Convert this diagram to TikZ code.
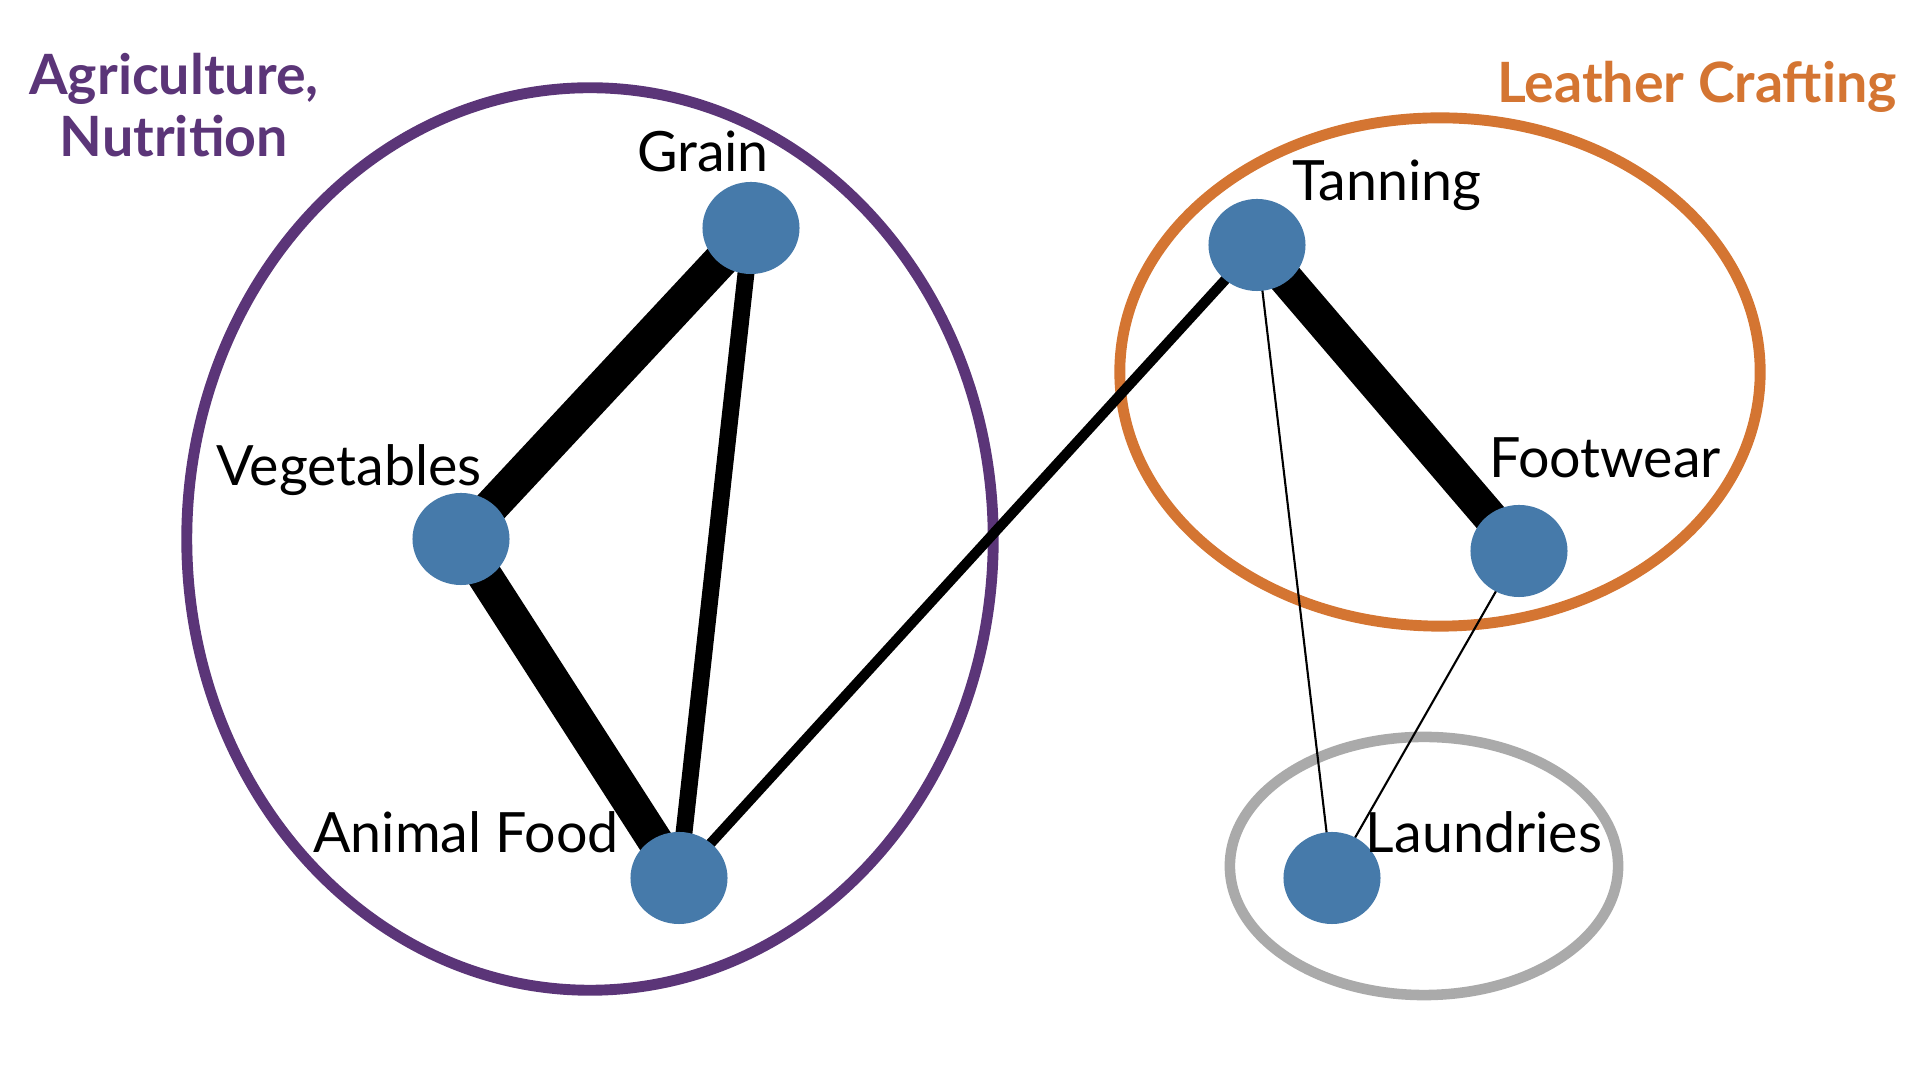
\documentclass[tikz,border=0pt]{standalone}
\usepackage{fontspec}
\setmainfont{Lato}
\usetikzlibrary{shapes.geometric,backgrounds}
\definecolor{nodeblue}{RGB}{70,122,170}
\definecolor{agripurple}{RGB}{91,53,120}
\definecolor{leatherorange}{RGB}{212,117,50}
\definecolor{groupgray}{RGB}{170,170,170}
\begin{document}
\begin{tikzpicture}[x=0.01cm,y=-0.01cm, every node/.style={font=\fontsize{15.8}{17.9}\selectfont},ind/.style={ellipse,fill=nodeblue,inner sep=0pt,minimum width=0.97cm,minimum height=0.92cm},indlab/.style={anchor=base,inner sep=0pt},grouplab/.style={anchor=base,inner sep=0pt,align=center,font=\fontsize{15.8}{17.9}\selectfont\bfseries},]
\useasboundingbox (0,0) rectangle (1920,1080);
\node[ind] (grain) at (751,228) {};
\node[ind] (veg) at (461,539) {};
\node[ind] (food) at (679,878) {};
\node[ind] (tan) at (1257,245) {};
\node[ind] (foot) at (1519,551) {};
\node[ind] (laun) at (1332,878) {};
\node[indlab] (grainlab) at (703,172) {Grain};
\node[indlab] (veglab) at (349,486) {Vegetables};
\node[indlab] (foodlab) at (466,853) {Animal Food};
\node[indlab] (tanlab) at (1387,201) {Tanning};
\node[indlab] (footlab) at (1605,478) {Footwear};
\node[indlab] (launlab) at (1484,853) {Laundries};
\node[grouplab,text=agripurple] (agri) at (174,157) {Agriculture,\\Nutrition};
\node[grouplab,text=leatherorange] (leather) at (1697,103) {Leather Crafting};
\begin{scope}[on background layer]
\draw[agripurple,line width=3.1pt] (590,539) ellipse [x radius=4.03cm,y radius=4.51cm];
\draw[leatherorange,line width=3.1pt] (1440,372) ellipse [x radius=3.20cm,y radius=2.54cm];
\draw[groupgray,line width=3pt] (1424,866) ellipse [x radius=1.94cm,y radius=1.29cm];
\draw[line width=10pt] (grain.center) -- (veg.center);
\draw[line width=10pt] (veg.center) -- (food.center);
\draw[line width=4.8pt] (grain.center) -- (food.center);
\draw[line width=2.9pt] (food.center) -- (tan.center);
\draw[line width=9.8pt] (tan.center) -- (foot.center);
\draw[line width=0.6pt] (tan.center) -- (laun.center);
\draw[line width=0.6pt] (foot.center) -- (laun.center);
\end{scope}
\end{tikzpicture}
\end{document}
